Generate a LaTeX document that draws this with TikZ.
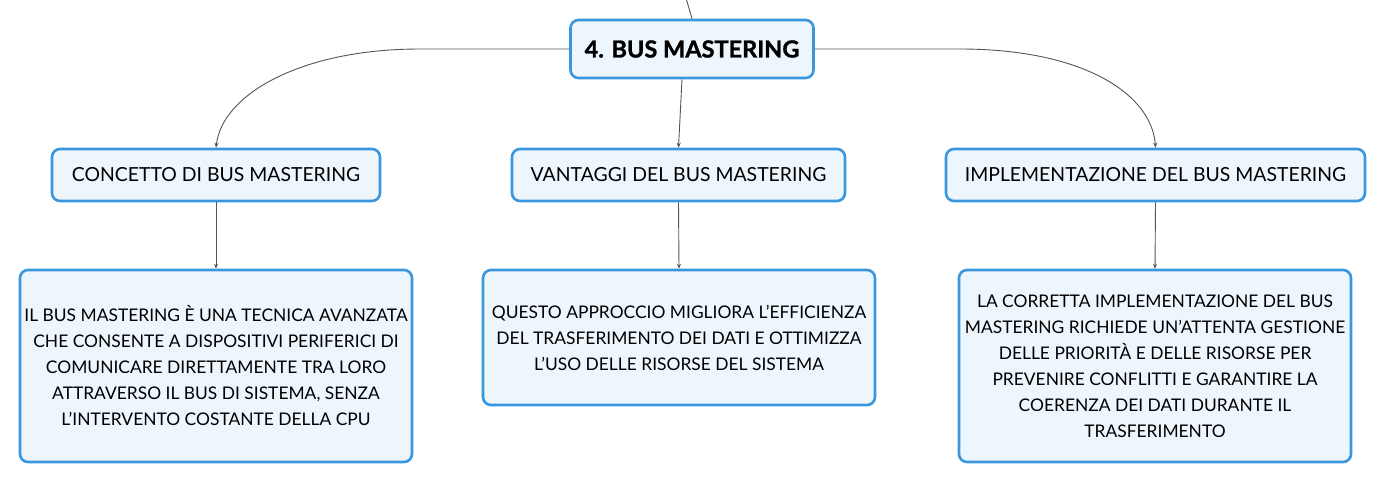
\documentclass[tikz,border=0pt]{standalone}
\usepackage{fontspec}
\setmainfont{Lato}
\newfontfamily\heavy[BoldFeatures={FakeBold=1.2}]{Lato}
\usetikzlibrary{arrows.meta,calc}
\definecolor{boxfill}{HTML}{EEF6FD}
\definecolor{boxline}{HTML}{3A97DE}
\definecolor{edgecol}{HTML}{555555}
\tikzset{
  mbox/.style={draw=boxline, line width=2.6pt, fill=boxfill, rounded corners=8pt, align=center, inner sep=0pt, font=\fontsize{17.4}{26}\selectfont},
  subbox/.style={mbox, minimum height=52pt, font=\fontsize{19.4}{26}\selectfont},
  edge/.style={draw=edgecol, line width=0.9pt, -{Stealth[length=5pt,width=4pt]}},
  plain/.style={draw=edgecol, line width=0.9pt}
}
\begin{document}
\begin{tikzpicture}[x=1pt,y=-1pt]
\useasboundingbox (0,0) rectangle (1386,483);
\node[mbox, minimum width=243pt, minimum height=58pt, font=\fontsize{23.5}{26}\selectfont\heavy\bfseries] (top) at (692,49) {4. BUS MASTERING};
\node[subbox, minimum width=328pt] (c1) at (216,175) {CONCETTO DI BUS MASTERING};
\node[subbox, minimum width=333pt] (c2) at (678.5,175) {VANTAGGI DEL BUS MASTERING};
\node[subbox, minimum width=419pt] (c3) at (1155.5,175) {IMPLEMENTAZIONE DEL BUS MASTERING};
\node[mbox, minimum width=392pt, minimum height=192pt] (d1) at (216,366) {IL BUS MASTERING È UNA TECNICA AVANZATA\\CHE CONSENTE A DISPOSITIVI PERIFERICI DI\\COMUNICARE DIRETTAMENTE TRA LORO\\ATTRAVERSO IL BUS DI SISTEMA, SENZA\\L'INTERVENTO COSTANTE DELLA CPU};
\node[mbox, minimum width=392pt, minimum height=135pt] (d2) at (679,337.5) {QUESTO APPROCCIO MIGLIORA L'EFFICIENZA\\DEL TRASFERIMENTO DEI DATI E OTTIMIZZA\\L'USO DELLE RISORSE DEL SISTEMA};
\node[mbox, minimum width=392pt, minimum height=192pt] (d3) at (1155,366) {LA CORRETTA IMPLEMENTAZIONE DEL BUS\\MASTERING RICHIEDE UN'ATTENTA GESTIONE\\DELLE PRIORITÀ E DELLE RISORSE PER\\PREVENIRE CONFLITTI E GARANTIRE LA\\COERENZA DEI DATI DURANTE IL\\TRASFERIMENTO};
\coordinate (in) at (686,-2);
\coordinate (lbend) at (420,49);
\coordinate (rbend) at (960,49);
\draw[plain] (in) .. controls (689,8) .. (top.north);
\draw[edge] (top.west) -- (lbend) .. controls (300,49) and (222,95) .. (c1.north);
\draw[edge] (top.east) -- (rbend) .. controls (1085,49) and (1152,95) .. (c3.north);
\draw[edge] ($(top.south)+(-10,0)$) -- (c2.north);
\draw[edge] (c1.south) -- (d1.north);
\draw[edge] (c2.south) -- (d2.north);
\draw[edge] (c3.south) -- (d3.north);
\end{tikzpicture}
\end{document}
